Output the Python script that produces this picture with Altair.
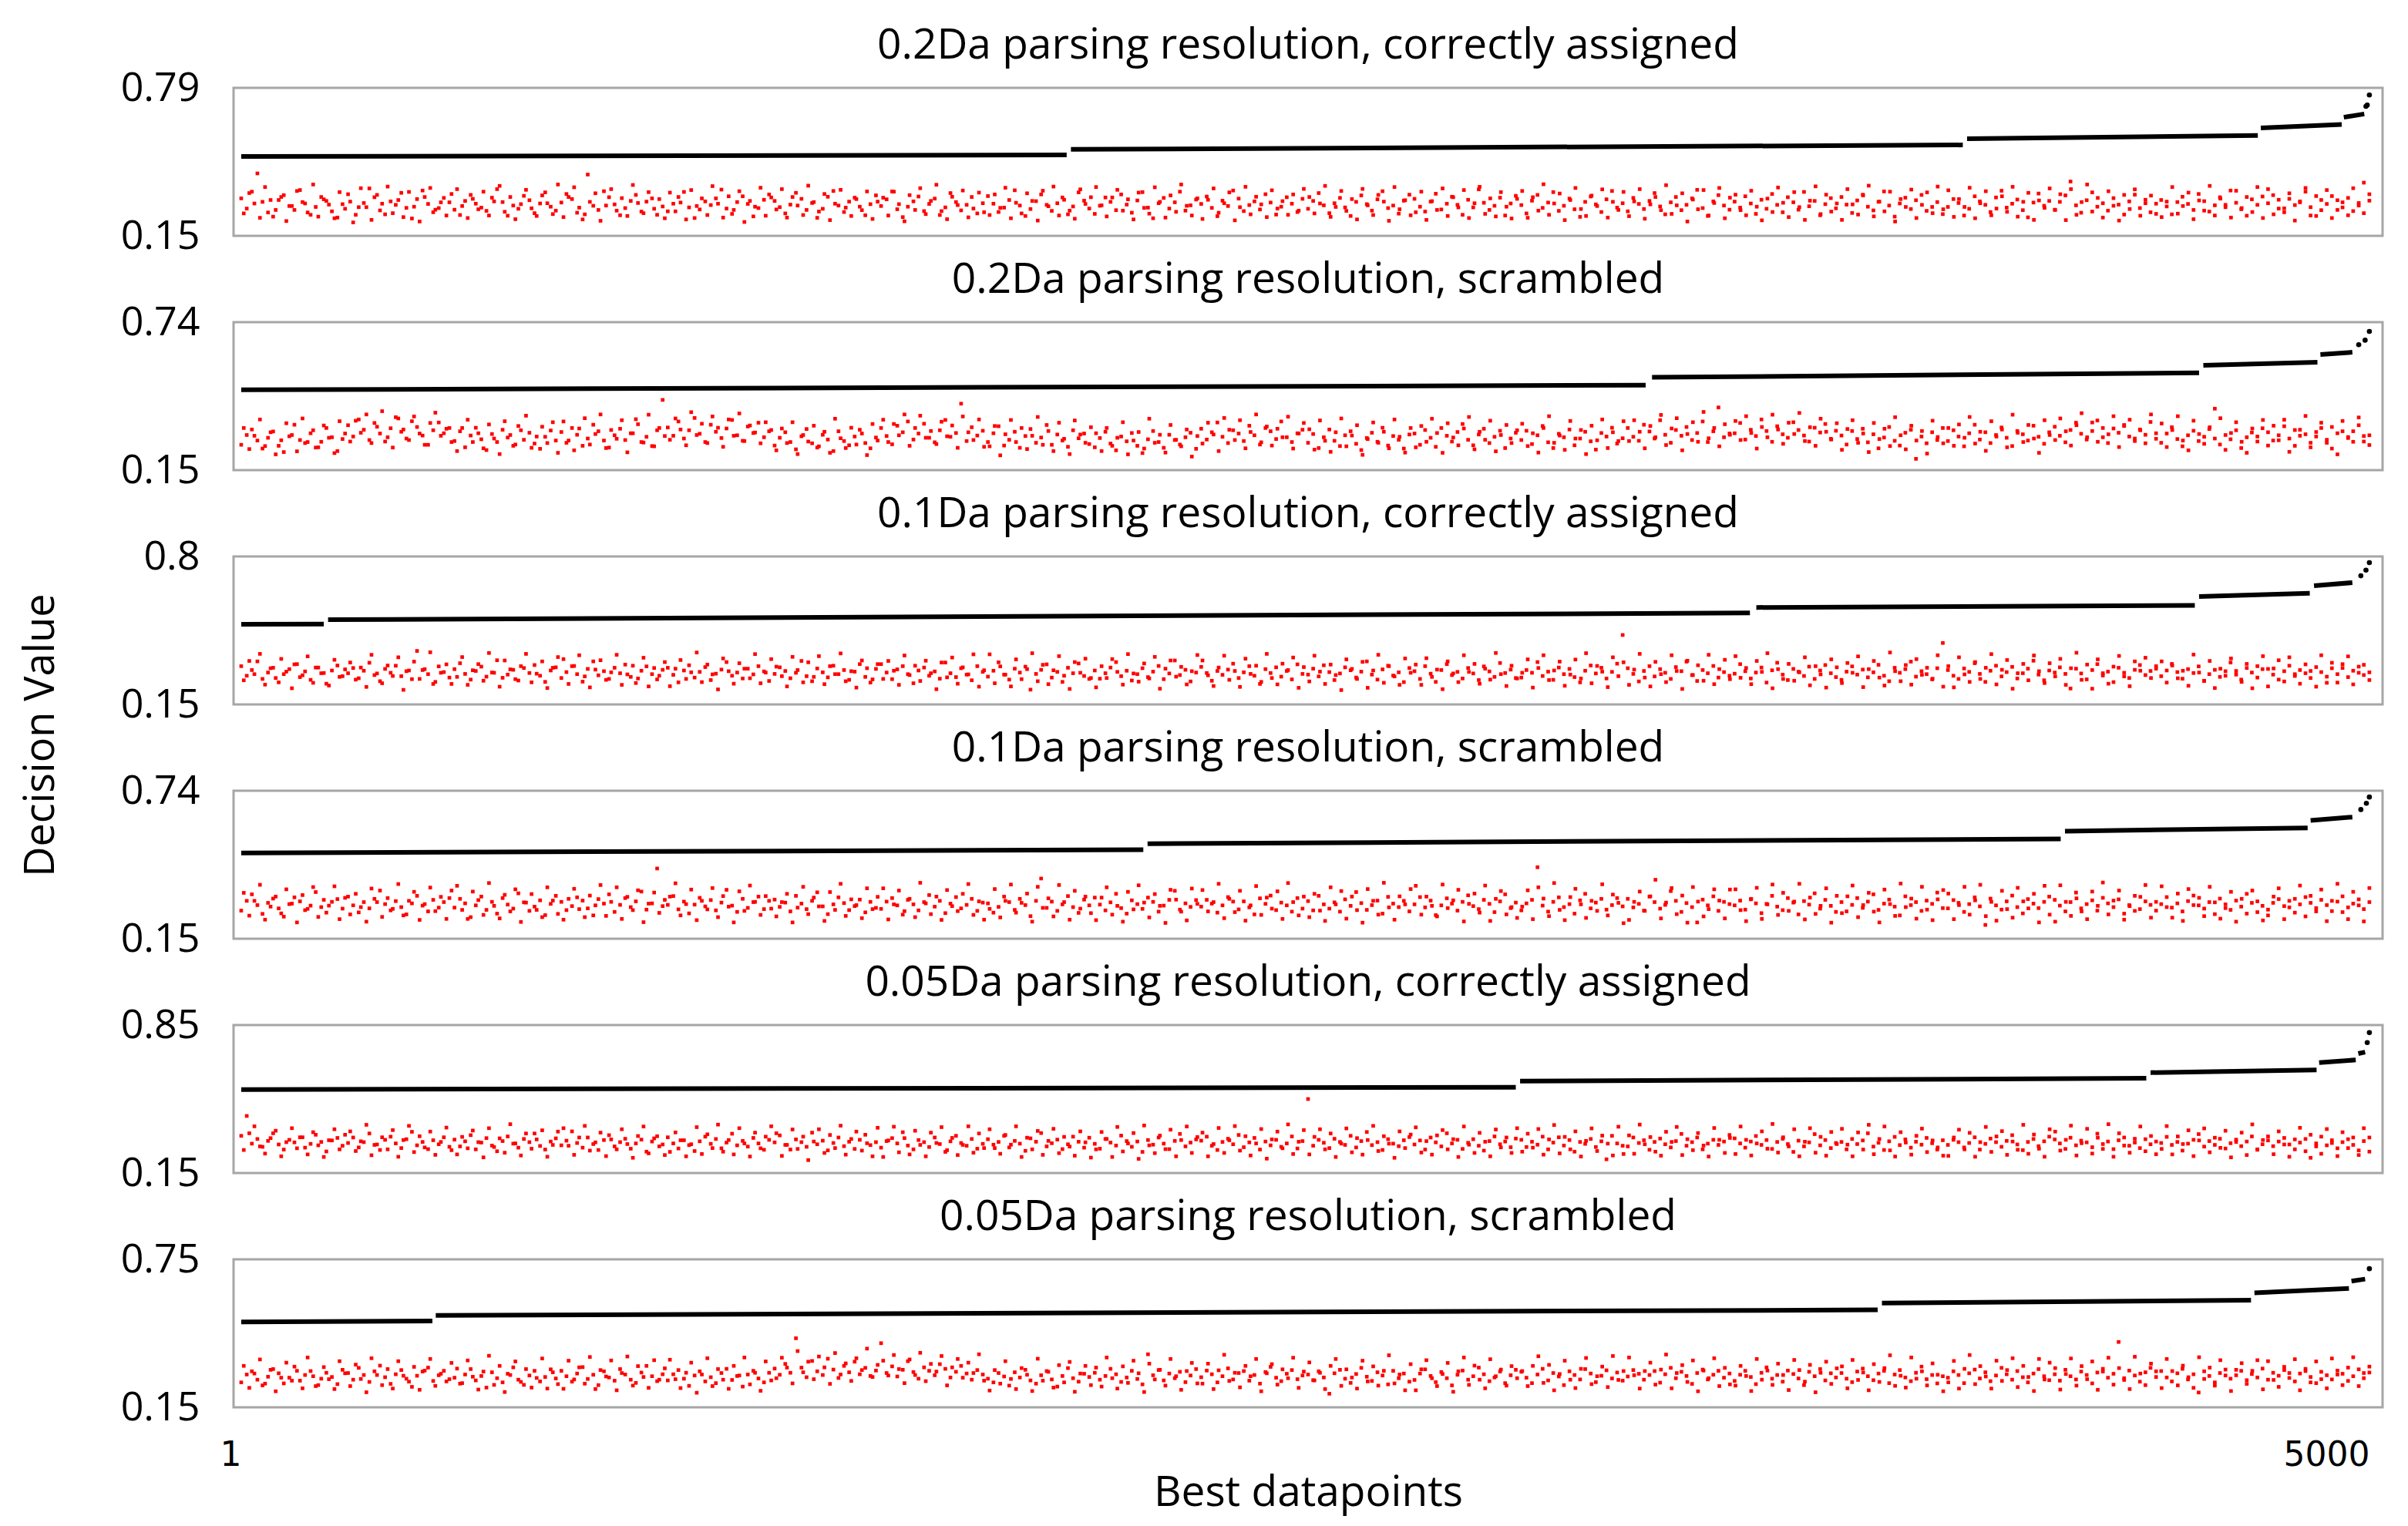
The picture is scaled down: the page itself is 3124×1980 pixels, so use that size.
import altair as alt
import pandas as pd

# ---------------- data ----------------
panel_titles = [
    "0.2Da parsing resolution, correctly assigned",
    "0.2Da parsing resolution, scrambled",
    "0.1Da parsing resolution, correctly assigned",
    "0.1Da parsing resolution, scrambled",
    "0.05Da parsing resolution, correctly assigned",
    "0.05Da parsing resolution, scrambled",
]
y_min = 0.15
y_max = [0.79, 0.74, 0.80, 0.74, 0.85, 0.75]
x_ticks = [1, 5000]

# black (sorted) series: segments (rank_from, rank_to, value_from, value_to)
segs_p1 = [(1, 1940, 0.493, 0.500), (1950, 4045, 0.524, 0.543), (4055, 4738, 0.570, 0.584),
           (4745, 4935, 0.617, 0.632), (4940, 4988, 0.663, 0.677)]
segs_p2 = [(1, 3300, 0.470, 0.489), (3315, 4600, 0.520, 0.538), (4610, 4878, 0.568, 0.580),
           (4885, 4960, 0.611, 0.620)]
segs_p3 = [(1, 195, 0.502, 0.503), (205, 3545, 0.522, 0.552), (3560, 4590, 0.576, 0.585),
           (4600, 4860, 0.624, 0.638), (4870, 4960, 0.671, 0.685)]
segs_p4 = [(1, 2120, 0.492, 0.505), (2130, 4275, 0.529, 0.548), (4285, 4855, 0.579, 0.592),
           (4862, 4960, 0.622, 0.635)]
segs_p5 = [(1, 2995, 0.545, 0.556), (3005, 4476, 0.585, 0.598), (4486, 4876, 0.625, 0.638),
           (4882, 4968, 0.672, 0.685), (4974, 4990, 0.715, 0.722)]
segs_p6 = [(1, 450, 0.496, 0.500), (458, 3845, 0.523, 0.545), (3855, 4722, 0.573, 0.584),
           (4730, 4952, 0.614, 0.632), (4958, 4990, 0.662, 0.670)]

# last few black points at the top end
tops_p1 = [(4992, 0.710), (4995, 0.716), (5000, 0.759)]
tops_p2 = [(4975, 0.650), (4990, 0.668), (5000, 0.703)]
tops_p3 = [(4980, 0.715), (4992, 0.740), (5000, 0.773)]
tops_p4 = [(4980, 0.665), (4993, 0.690), (5000, 0.715)]
tops_p5 = [(4995, 0.767), (5000, 0.814)]
tops_p6 = [(5000, 0.712)]

# red series (thousandths), two interleaved samples along each band
red_p1 = [
    312,268,341,420,297,251,233,305,326,279,262,348,290,241,275,318,301,256,229,287,
    330,208,274,292,355,317,260,243,299,284,336,271,225,309,346,288,252,270,314,295,
    263,240,301,327,289,272,258,315,352,296,237,281,267,323,304,248,290,338,276,259,
    294,331,309,250,221,415,280,262,343,317,286,239,270,301,327,255,298,312,241,277,
    256,289,318,340,273,227,264,299,283,312,350,268,245,296,321,288,234,270,306,329,
    301,274,247,285,336,310,262,292,228,267,319,344,281,253,298,315,276,239,287,325,
    279,308,342,265,231,276,299,320,257,288,311,240,273,335,296,260,284,318,247,291,
    322,289,253,272,305,347,281,236,266,300,329,284,258,291,316,243,277,338,302,268,
    245,280,316,297,261,329,285,250,303,339,272,226,291,314,268,295,341,259,282,307,
    288,320,271,235,302,279,346,311,257,283,299,264,330,294,242,276,317,289,253,310,
    267,301,335,282,248,291,314,273,236,297,325,287,259,308,343,270,281,246,302,328,
    310,276,255,298,332,264,289,319,284,241,306,273,351,293,262,280,315,238,290,323,
    283,247,302,327,271,294,339,258,280,311,265,232,297,320,286,253,308,344,272,291,
    256,314,288,266,301,335,277,243,295,318,261,284,312,349,270,236,299,326,281,263,
    298,272,321,290,245,306,267,331,284,252,317,295,263,340,278,301,239,287,313,269,
    318,285,249,303,328,276,260,297,342,281,233,290,315,266,304,327,258,275,296,244,
    275,309,292,238,267,321,299,284,253,316,345,272,289,307,261,230,294,333,280,301,
    263,297,325,385,282,250,304,338,276,291,259,313,285,242,299,328,270,306,252,289,
    305,277,243,296,319,288,262,331,300,255,282,317,274,346,293,265,237,308,284,320,
    291,326,268,252,310,283,299,341,274,236,305,288,322,262,295,314,257,281,380,302,
]
red_p1b = [
    247,335,290,228,361,305,262,318,214,279,344,296,251,372,233,308,285,226,339,267,
    298,241,356,274,219,327,289,363,248,305,231,340,276,212,318,357,263,295,238,331,
    352,279,227,310,265,341,238,299,366,254,318,222,287,349,269,236,325,291,244,372,
    231,318,360,272,243,297,334,215,281,352,259,313,236,370,292,248,339,267,309,226,
    337,256,294,221,348,279,312,240,365,289,229,321,262,343,210,301,276,358,237,316,
    264,352,229,318,281,240,367,296,255,331,218,289,349,272,236,309,261,342,223,298,
    315,238,341,287,213,326,262,356,244,301,371,257,222,319,283,346,230,268,337,252,
    240,329,271,358,226,293,247,334,301,216,345,278,363,238,306,259,224,351,288,317,
    361,282,234,316,349,259,308,221,337,271,246,360,297,229,325,254,372,280,238,312,
    223,306,355,250,291,338,217,274,362,243,319,286,231,347,268,300,241,329,259,353,
    318,247,290,366,232,275,344,258,309,221,353,282,240,327,298,215,361,265,304,239,
    252,341,219,300,262,355,236,317,273,348,227,291,362,245,312,234,339,276,225,310,
    344,228,317,259,373,241,290,333,218,305,357,266,236,324,279,351,229,297,262,340,
    235,299,352,224,286,318,261,369,245,282,334,212,307,265,348,238,292,357,226,315,
    328,261,239,345,276,217,311,253,359,293,231,339,274,219,302,364,244,328,255,290,
    219,352,286,242,325,367,234,298,256,341,212,309,275,350,227,284,338,248,363,265,
    347,232,309,275,358,226,291,343,239,268,321,254,362,233,297,336,219,303,271,355,
    262,330,218,352,241,296,372,255,314,229,343,280,216,327,266,351,237,291,324,245,
    231,298,361,246,279,337,222,303,259,366,238,311,284,229,345,270,318,253,361,227,
    352,243,306,269,334,216,295,357,238,322,261,348,227,304,273,239,356,292,248,330,
]
red_p2 = [
    251,290,312,268,236,279,304,247,222,285,331,270,258,297,240,263,318,281,226,274,
    329,284,352,311,270,338,296,264,317,361,303,276,345,322,288,251,309,340,297,318,
    266,305,241,288,319,273,230,294,262,311,280,247,326,271,299,256,235,283,308,268,
    302,259,318,291,247,276,331,305,268,240,289,315,270,297,353,262,283,246,309,430,
    320,287,344,276,309,358,295,262,331,303,278,316,350,289,267,324,298,339,281,305,
    248,279,301,262,233,285,314,257,240,291,272,226,305,266,249,284,311,258,237,280,
    318,286,253,327,301,344,272,296,335,279,261,309,350,283,298,415,266,321,288,307,
    262,297,325,248,271,303,239,286,314,259,280,330,251,292,268,243,309,277,296,254,
    241,278,303,256,229,284,265,298,247,218,273,306,262,239,291,270,252,281,299,235,
    315,272,301,340,283,258,309,296,266,327,289,252,318,305,274,344,281,262,297,311,
    259,294,238,281,312,267,246,289,305,255,230,278,299,263,319,248,286,271,236,292,
    296,251,310,279,243,318,287,264,302,334,271,249,292,315,258,283,307,238,276,299,
    270,307,254,289,326,261,238,295,281,312,249,276,303,265,232,298,284,319,256,277,
    318,283,267,331,304,276,349,291,259,310,287,322,270,298,344,262,305,400,281,296,
    297,338,272,311,286,352,306,263,325,293,279,341,310,288,264,319,300,334,275,307,
    288,252,306,274,315,261,293,237,280,322,267,248,299,311,195,284,257,301,270,318,
    266,309,284,245,297,331,272,301,258,290,320,279,246,306,293,268,327,283,255,301,
    323,287,261,310,339,295,272,306,348,281,258,316,299,330,284,266,312,291,342,275,
    259,296,321,274,245,289,307,266,283,314,395,252,290,273,309,238,281,300,264,317,
    301,268,289,325,276,247,311,293,259,284,318,271,236,297,305,282,263,329,286,250,
]
red_p2b = [
    318,234,287,352,246,301,213,269,337,290,225,356,262,309,241,328,279,218,345,296,
    264,347,299,372,258,323,385,281,240,356,312,270,364,296,251,338,379,287,315,262,
    226,318,351,262,297,237,332,276,214,345,290,252,309,367,239,284,323,258,341,219,
    344,268,229,316,357,252,294,372,238,310,275,349,221,297,333,260,371,245,318,286,
    271,356,312,249,381,290,335,258,364,319,243,352,287,376,266,328,300,257,341,310,
    229,316,258,341,214,290,264,327,245,303,219,355,277,238,319,252,296,210,334,268,
    351,262,334,289,372,247,318,367,279,306,254,343,285,328,239,364,301,270,352,243,
    245,326,209,293,350,262,318,234,287,362,251,306,226,339,275,214,348,292,259,321,
    297,226,318,247,279,341,213,268,302,236,355,259,291,220,330,271,245,312,204,286,
    256,339,292,226,358,311,270,349,237,302,372,261,324,248,315,281,363,236,296,338,
    313,232,348,267,223,301,356,245,288,329,211,274,340,259,303,237,352,283,220,318,
    241,326,263,355,298,219,337,280,249,316,362,233,303,271,347,225,290,330,258,309,
    335,246,297,220,318,365,259,288,231,346,276,310,214,327,269,352,238,301,266,345,
    266,349,303,237,326,281,370,250,316,357,229,294,341,263,382,277,318,245,333,291,
    346,270,365,298,236,322,281,371,312,255,339,294,378,266,321,247,355,303,272,337,
    231,314,349,259,296,222,338,274,315,246,361,289,233,327,268,306,216,347,282,257,
    318,247,332,279,362,256,303,227,345,284,312,241,371,299,262,330,276,219,349,290,
    270,356,305,248,329,377,281,340,263,318,293,365,242,326,351,276,309,257,372,297,
    336,242,310,365,268,229,347,294,255,321,276,357,231,298,341,263,219,316,284,350,
    248,327,269,351,223,310,287,366,241,302,339,259,322,213,346,278,305,360,264,289,
]
red_p3 = [
    318,276,301,339,262,290,311,247,283,305,326,270,295,258,312,287,241,299,321,274,
    287,310,265,298,333,279,252,306,289,320,274,296,261,385,301,283,240,317,292,268,
    305,331,284,259,297,316,272,290,344,267,281,302,255,310,288,323,276,249,299,313,
    266,292,318,283,250,306,339,278,296,262,311,287,325,271,244,298,317,283,260,302,
    311,280,247,299,322,268,293,314,257,285,303,336,276,290,264,307,282,318,295,253,
    284,313,297,265,289,341,274,252,308,291,269,320,283,301,258,294,327,271,246,306,
    327,290,261,304,318,283,243,299,312,276,295,263,334,287,270,309,281,256,318,293,
    272,298,335,281,259,307,290,316,215,284,302,326,268,293,249,311,287,330,275,262,
    299,263,287,312,336,274,298,255,283,309,270,294,319,261,286,343,279,302,251,290,
    315,288,254,297,280,303,329,266,291,318,276,240,305,288,313,272,297,260,326,284,
    281,307,273,322,292,257,286,313,300,268,294,339,281,259,304,320,277,291,248,310,
    296,262,318,285,249,301,327,279,293,264,310,286,257,317,295,271,332,288,303,266,
    268,301,289,336,275,294,258,312,283,306,270,247,298,321,286,311,264,293,329,455,
    309,284,251,297,318,273,305,289,262,314,296,338,279,253,301,287,319,268,292,276,
    285,327,296,264,290,312,246,300,333,281,257,306,294,275,316,262,299,323,287,270,
    258,294,317,281,303,269,291,324,276,252,311,289,305,338,272,296,283,260,309,420,
    301,276,262,308,293,331,284,249,298,320,273,292,315,264,287,307,342,281,256,299,
    290,313,284,220,307,286,260,301,327,277,294,248,311,289,266,302,323,279,297,318,
    274,299,328,292,263,305,288,317,254,283,302,271,296,334,281,259,310,290,268,305,
    306,281,259,296,320,275,301,287,266,314,292,245,309,283,327,270,298,316,279,291,
]
red_p3b = [
    256,341,283,372,237,309,266,350,294,221,327,278,361,245,312,288,233,346,271,304,
    334,259,312,227,368,286,243,321,275,357,214,299,338,262,305,379,249,289,326,240,
    271,358,236,300,327,254,376,289,228,343,304,261,318,372,247,285,339,222,311,358,
    349,240,319,366,273,225,303,344,258,291,368,236,282,320,264,355,229,310,276,336,
    230,307,345,262,291,378,248,325,282,216,352,296,241,331,307,265,371,243,290,349,
    316,274,229,359,301,247,335,271,362,239,318,283,374,252,296,224,343,309,260,327,
    262,341,298,236,365,279,320,253,342,287,217,334,269,356,241,313,282,370,228,300,
    370,243,317,281,229,348,261,305,375,252,324,239,300,362,276,218,336,289,351,266,
    225,318,266,349,293,237,371,286,250,330,264,359,219,307,343,272,315,238,296,367,
    343,278,231,312,364,258,297,227,351,284,320,249,372,266,238,329,301,356,223,314,
    251,364,294,240,325,279,213,348,306,262,337,223,299,368,245,318,273,236,352,289,
    325,236,353,271,303,217,339,286,248,366,293,328,241,307,259,376,283,231,320,264,
    289,348,224,310,366,257,299,338,232,281,347,264,375,243,319,294,226,357,274,335,
    236,303,372,268,229,337,283,248,366,297,218,342,279,322,254,368,239,305,346,261,
    362,267,310,239,341,293,375,221,305,262,328,254,291,357,234,318,282,224,348,313,
    244,332,289,361,226,305,341,268,233,378,296,252,323,237,349,280,311,263,366,228,
    318,225,357,282,249,336,262,311,371,238,302,345,219,287,328,256,365,296,244,331,
    273,350,236,309,377,258,325,219,348,287,241,316,363,273,230,339,298,355,266,307,
    339,246,321,265,298,232,369,290,253,341,222,307,276,352,297,249,328,221,318,362,
    229,308,344,251,357,283,241,326,297,228,366,272,333,246,310,361,238,289,324,257,
]
red_p4 = [
    262,301,327,284,249,293,310,271,238,288,315,299,264,282,336,276,254,297,308,270,
    318,283,255,296,271,309,342,288,263,300,276,247,291,321,282,259,305,274,296,312,
    274,309,291,236,283,318,265,297,250,312,286,270,331,295,261,278,303,244,289,321,
    297,264,280,315,302,271,243,308,290,327,257,285,312,276,299,338,266,291,430,280,
    285,320,267,298,251,286,313,279,304,263,294,345,282,257,309,273,296,318,268,301,
    306,277,294,259,321,290,268,301,335,279,248,287,315,292,264,280,306,255,297,273,
    269,298,312,283,246,305,287,263,296,324,278,301,252,290,316,271,285,309,261,294,
    291,254,277,318,296,265,309,284,240,301,390,273,298,261,287,320,276,253,306,283,
    314,286,263,295,329,272,250,303,288,269,314,297,258,282,305,341,266,291,277,304,
    278,305,290,254,283,316,298,267,299,275,247,311,289,322,264,294,283,258,312,270,
    300,263,321,287,270,295,258,307,281,336,292,265,284,302,250,317,290,276,301,259,
    287,316,275,302,244,283,311,290,262,297,323,280,268,305,289,256,299,327,272,294,
    263,291,305,435,282,258,297,315,276,288,250,303,329,271,294,309,266,284,312,279,
    309,275,289,262,318,296,270,285,340,301,257,292,276,215,306,283,319,261,297,288,
    283,302,266,307,291,252,289,321,278,264,312,294,247,300,286,331,270,305,281,257,
    296,259,285,312,273,298,327,265,290,306,278,243,319,284,296,261,302,289,334,272,
    271,304,293,257,288,315,279,205,310,283,266,299,322,276,251,308,290,272,297,318,
    305,282,259,296,334,271,288,303,262,313,291,276,307,250,284,321,268,299,285,262,
    288,316,274,291,259,300,322,283,270,296,248,310,287,265,302,278,329,293,256,281,
    266,293,308,280,301,254,287,316,293,272,305,284,260,298,319,275,290,307,268,296,
]
red_p4b = [
    333,242,301,365,226,278,318,251,347,290,215,324,269,356,237,305,282,359,228,313,
    247,329,276,218,350,296,237,312,269,368,243,301,337,225,288,354,260,317,229,342,
    361,265,229,338,304,245,372,281,231,325,259,347,217,294,328,265,236,355,302,249,
    226,309,349,268,236,322,283,364,241,297,355,229,317,264,343,216,290,334,253,305,
    318,371,243,288,346,224,301,267,352,236,320,278,215,339,261,362,297,245,320,270,
    239,296,329,215,274,357,248,314,279,221,336,265,369,241,307,284,232,351,268,317,
    351,227,287,342,260,309,236,373,291,248,318,225,344,280,260,329,368,245,299,226,
    269,348,235,301,366,254,293,330,218,357,273,311,239,364,296,226,341,270,318,252,
    224,314,355,246,281,218,337,267,363,294,235,328,281,213,345,306,258,223,350,289,
    344,259,296,369,232,309,256,341,222,283,360,245,314,270,339,229,372,296,243,318,
    236,329,262,221,355,287,340,230,318,264,214,348,301,246,373,275,226,319,287,348,
    361,246,318,281,239,366,272,303,345,219,289,330,254,362,221,309,340,247,276,233,
    278,343,228,355,310,240,372,265,224,316,349,287,233,301,261,367,243,326,293,212,
    225,297,338,261,319,385,231,294,352,248,322,214,356,298,239,268,347,302,231,346,
    347,264,220,309,353,229,287,366,245,333,261,298,369,227,314,249,281,351,214,321,
    252,319,362,236,284,333,258,215,346,288,241,370,276,310,230,357,266,224,307,344,
    330,228,284,357,246,303,365,240,297,222,341,268,234,353,299,271,329,215,361,246,
    218,363,297,241,311,259,228,338,281,374,247,302,342,226,280,261,317,364,234,297,
    359,276,234,330,221,348,284,313,240,357,295,230,272,337,218,309,250,342,299,223,
    243,318,351,228,275,309,362,239,321,259,346,220,301,369,256,228,337,283,219,352,
]
red_p5 = [
    326,420,289,311,274,302,338,285,261,307,295,319,270,288,331,297,252,304,316,279,
    292,318,271,296,337,283,259,307,322,290,268,310,345,281,297,263,305,286,319,274,
    308,276,300,329,262,294,315,280,253,301,323,289,270,311,296,337,278,261,299,314,
    281,303,347,292,270,318,287,259,306,329,276,296,312,265,290,308,251,299,324,285,
    319,290,266,305,282,254,300,322,288,311,267,294,336,281,302,275,316,290,260,307,
    295,328,283,261,309,296,274,341,286,303,257,292,318,277,298,264,307,331,282,296,
    270,301,315,290,343,280,262,306,296,273,318,287,250,300,326,292,279,311,265,288,
    310,284,297,326,271,302,289,255,314,298,339,276,291,308,263,286,322,298,270,317,
    288,265,311,294,280,327,301,274,299,250,306,284,318,289,263,302,335,276,294,309,
    303,322,279,259,297,312,286,330,272,295,316,261,299,281,307,274,290,323,266,301,
    500,279,307,293,268,312,297,283,326,271,301,344,282,296,259,310,289,277,305,320,
    285,304,261,318,295,276,338,290,307,264,293,310,279,256,301,323,286,299,272,313,
    307,273,298,284,322,262,294,319,280,306,251,297,288,311,273,300,215,326,290,279,
    276,318,292,305,260,297,313,286,271,301,335,279,296,318,262,289,307,283,299,330,
    314,290,270,299,325,283,306,264,297,312,287,250,303,276,295,334,281,306,268,292,
    297,262,311,287,304,338,275,293,259,300,321,282,309,270,298,284,316,291,261,305,
    283,307,296,271,292,319,261,288,313,296,274,302,329,285,258,297,311,277,300,322,
    309,290,264,317,281,303,295,272,336,287,299,263,305,318,279,294,268,310,286,299,
    292,321,283,297,256,289,307,334,275,301,283,312,266,291,308,277,299,323,260,286,
    304,277,299,316,285,262,294,311,222,290,322,281,305,267,296,310,283,257,301,318,
]
red_p5b = [
    259,338,371,276,242,315,350,229,296,362,267,319,238,343,281,226,305,357,262,331,
    347,254,300,378,234,285,319,262,353,227,306,373,249,324,271,346,236,297,365,258,
    238,321,267,351,296,224,362,273,314,246,381,290,233,337,265,309,352,227,283,346,
    362,279,236,318,373,256,295,341,230,309,262,357,287,222,325,370,243,314,276,235,
    250,342,305,229,286,367,240,333,268,379,251,306,238,362,290,228,341,267,322,371,
    338,231,283,356,264,322,211,299,357,245,330,268,374,237,311,346,256,291,229,364,
    226,304,369,248,315,238,350,283,229,341,292,367,258,316,235,283,371,246,337,268,
    357,268,241,330,284,371,226,317,262,349,236,302,359,244,321,275,232,347,295,223,
    262,344,311,226,368,252,290,339,217,375,281,244,327,263,355,229,306,370,245,320,
    341,229,287,363,245,305,372,256,324,233,290,358,218,309,346,267,380,240,298,353,
    238,321,357,262,337,226,289,361,248,315,237,306,373,254,324,289,222,347,268,332,
    366,247,301,237,328,353,262,310,226,370,284,245,340,298,229,356,271,318,245,362,
    251,336,270,358,237,309,377,243,321,262,347,228,302,361,254,327,289,233,369,240,
    328,241,379,286,320,251,232,345,297,368,235,310,258,339,280,228,363,307,245,316,
    240,370,307,233,290,347,265,382,247,319,276,357,229,298,362,246,321,232,344,287,
    359,284,229,342,261,378,239,311,370,257,228,343,294,237,326,360,249,304,271,232,
    231,318,355,262,340,227,296,368,250,323,348,236,299,260,378,241,332,265,227,357,
    346,256,307,374,233,291,359,242,317,264,381,227,338,280,246,312,370,253,325,239,
    264,372,238,323,287,352,230,304,361,248,317,269,350,224,297,341,235,380,262,306,
    323,239,347,285,227,309,364,253,331,276,241,358,292,230,343,268,318,235,362,251,
]
red_p6 = [
    251,283,296,262,239,274,305,288,247,270,315,258,281,297,236,266,290,273,244,302,
    289,262,310,281,253,296,319,272,245,284,301,266,233,278,295,311,257,280,298,264,
    270,246,283,305,259,277,230,292,268,251,286,312,262,241,279,298,255,273,304,267,
    298,276,254,287,313,265,282,240,296,271,258,305,283,262,249,291,318,276,256,284,
    259,284,301,266,237,279,296,255,272,248,289,306,261,277,234,283,298,267,251,290,
    307,282,326,290,430,311,272,338,296,281,347,303,269,318,292,335,284,310,277,299,
    410,289,316,275,302,337,293,266,312,298,280,325,306,271,294,318,287,262,301,283,
    266,251,289,275,238,292,271,302,259,246,280,297,263,234,277,309,268,254,286,273,
    290,262,277,306,284,253,271,298,265,243,365,280,301,259,287,268,294,252,279,305,
    272,299,284,251,276,308,263,289,297,258,281,246,293,314,270,256,286,301,264,279,
    283,260,296,271,205,288,302,266,249,285,310,274,257,292,279,243,298,268,287,254,
    261,287,304,277,252,293,268,239,282,299,262,276,311,284,256,271,295,248,280,302,
    294,270,248,283,306,259,289,275,240,296,281,263,305,287,252,278,300,267,291,258,
    275,301,286,262,281,297,250,284,310,268,294,277,245,289,303,263,282,298,270,287,
    257,282,298,273,244,290,312,266,281,254,299,285,267,240,294,276,305,259,288,271,
    289,266,252,295,307,276,260,287,298,248,283,301,271,256,290,315,264,281,247,276,
    270,296,281,248,288,303,267,292,256,279,310,284,262,297,272,251,287,305,276,260,
    284,258,302,276,263,295,281,247,291,306,270,286,415,268,299,279,254,292,310,273,
    297,271,255,288,306,263,284,210,296,277,251,289,303,266,280,298,260,285,271,307,
    262,290,278,301,269,255,287,306,273,248,294,280,263,299,286,257,276,304,268,291,
]
red_p6b = [
    318,229,287,344,246,302,215,270,331,258,298,227,352,276,240,313,264,224,337,288,
    236,323,265,211,349,281,240,305,226,337,278,254,314,221,299,346,237,286,255,330,
    307,248,340,274,222,295,359,241,318,212,281,336,253,305,230,269,348,226,292,244,
    225,339,263,312,246,354,224,301,275,340,219,289,356,238,317,273,229,341,262,308,
    343,264,228,290,331,209,283,349,236,305,262,225,318,279,352,243,290,217,336,259,
    268,351,311,247,378,292,335,264,356,312,245,370,283,328,257,349,301,388,273,322,
    339,279,362,305,248,344,281,371,256,326,295,358,239,312,346,270,331,289,365,258,
    218,301,246,337,265,224,309,282,216,347,258,294,230,321,251,334,213,287,318,240,
    311,234,352,268,226,316,249,339,288,212,327,263,302,238,346,276,221,297,330,247,
    246,327,224,300,363,257,290,231,318,276,346,215,288,325,242,304,268,351,229,295,
    332,259,290,224,318,346,237,304,271,226,339,255,316,238,298,361,247,283,219,325,
    219,304,341,268,236,285,330,213,296,352,241,319,262,227,345,276,303,238,317,268,
    297,236,318,357,249,322,219,285,339,262,228,306,350,244,276,315,232,358,261,297,
    352,280,226,297,331,242,303,364,227,289,321,253,340,215,299,268,349,236,310,243,
    238,318,277,216,346,262,299,241,327,281,220,342,301,254,322,211,290,335,245,308,
    316,227,342,261,291,219,325,253,309,361,237,278,230,352,266,296,239,328,282,215,
    251,338,226,306,362,244,317,275,226,339,257,301,349,232,318,273,216,346,263,331,
    309,222,285,348,238,317,264,336,221,295,351,242,309,261,224,355,287,240,327,296,
    228,346,297,239,319,272,229,353,265,311,238,341,279,216,302,329,245,298,341,223,
    337,261,233,314,289,345,219,297,251,336,264,227,348,283,240,311,353,236,289,315,
]

segs_all = [segs_p1, segs_p2, segs_p3, segs_p4, segs_p5, segs_p6]
tops_all = [tops_p1, tops_p2, tops_p3, tops_p4, tops_p5, tops_p6]
red_all = [red_p1, red_p2, red_p3, red_p4, red_p5, red_p6]
red_all_b = [red_p1b, red_p2b, red_p3b, red_p4b, red_p5b, red_p6b]

# ---------------- chart ----------------
TITLE_FONT = "Open Sans"
W, H = 2788, 192
x_scale = alt.Scale(domain=[-17, 5031], nice=False, zero=False)


def panel(i, last):
    va, vb = red_all[i], red_all_b[i]
    ranks_a = [round(1 + k * 4999 / (len(va) - 1)) for k in range(len(va))]
    ranks_b = [round(7 + k * 4993 / (len(vb) - 1)) for k in range(len(vb))]
    red_df = pd.DataFrame({"rank": ranks_a + ranks_b,
                           "value": [v / 1000 for v in va + vb]})
    seg_df = pd.DataFrame(segs_all[i], columns=["x0", "x1", "y0", "y1"])
    top_df = pd.DataFrame(tops_all[i], columns=["rank", "value"])

    y_scale = alt.Scale(domain=[y_min, y_max[i]], nice=False, zero=False)
    y_axis = alt.Axis(values=[y_min, y_max[i]], format=".2~f", labelFont=TITLE_FONT,
                      labelFontSize=52, labelPadding=44, ticks=False, tickSize=0,
                      domain=False, grid=False, title=None, labelColor="black")
    if last:
        x_axis = alt.Axis(values=x_ticks, format="d", labelFont="DejaVu Sans", labelFontSize=44,
                          labelAlign="right", labelFlush=False, labelPadding=40,
                          ticks=False, tickSize=0, domain=False, grid=False,
                          title="Best datapoints", titleFont=TITLE_FONT, titleFontSize=55,
                          titleFontWeight="normal", titlePadding=0, labelColor="black",
                          titleColor="black")
    else:
        x_axis = None

    def X(f):
        return alt.X(f, type="quantitative", scale=x_scale, axis=x_axis,
                     title="Best datapoints" if last else None)

    def Y(f):
        return alt.Y(f, type="quantitative", scale=y_scale, axis=y_axis, title=None)

    red = alt.Chart(red_df).mark_square(size=22, color="#ff0000", opacity=1).encode(
        x=X("rank"), y=Y("value"))
    line = alt.Chart(seg_df).mark_rule(strokeWidth=6, color="black").encode(
        x=X("x0"), x2="x1", y=Y("y0"), y2="y1")
    tops = alt.Chart(top_df).mark_circle(size=44, color="black", opacity=1).encode(
        x=X("rank"), y=Y("value"))
    return alt.layer(red, line, tops).properties(
        width=W, height=H,
        title=alt.TitleParams(panel_titles[i], font=TITLE_FONT, fontSize=55,
                              fontWeight="normal", color="black", offset=0, anchor="middle"))


panels = [panel(i, i == 5) for i in range(6)]

chart = alt.vconcat(*panels, spacing=0).properties(
    title=alt.TitleParams("Decision Value", orient="left", anchor="middle", font=TITLE_FONT,
                          fontSize=54, fontWeight="normal", color="black", offset=74, dx=44),
    padding={"left": 18, "top": 22, "right": 10, "bottom": 4},
).configure_view(stroke="#a6a6a6", strokeWidth=3)

chart.save("out.html", embed_options={"renderer": "svg", "actions": False})
